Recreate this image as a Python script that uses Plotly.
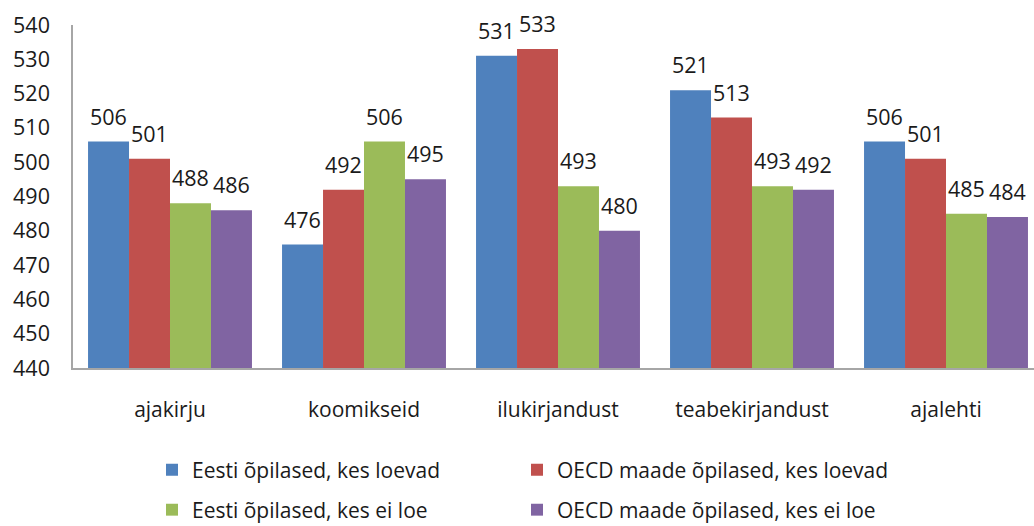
import plotly.graph_objects as go

categories = ["ajakirju", "koomikseid", "ilukirjandust", "teabekirjandust", "ajalehti"]
series_names = [
    "Eesti õpilased, kes loevad",
    "OECD maade õpilased, kes loevad",
    "Eesti õpilased, kes ei loe",
    "OECD maade õpilased, kes ei loe",
]
eesti_loevad = [506, 476, 531, 521, 506]
oecd_loevad = [501, 492, 533, 513, 501]
eesti_ei_loe = [488, 506, 493, 493, 485]
oecd_ei_loe = [486, 495, 480, 492, 484]
y_ticks = list(range(440, 541, 10))

series_values = [eesti_loevad, oecd_loevad, eesti_ei_loe, oecd_ei_loe]
colors = ["#4F81BD", "#C0504D", "#9BBB59", "#8064A2"]

FONT = "Open Sans, Noto Sans, sans-serif"
TEXT = "#1a1a1a"
W, H = 1034, 526
M_L, M_R, M_T, M_B = 73, 0, 25, 158
BARGAP = 0.155
X_RANGE = [-0.5, 4.4536]

# one legend box per entry: 2 columns x 2 rows below the plot
legend_ids = ["legend", "legend2", "legend3", "legend4"]
legend_left_px = [152, 517, 152, 517]
legend_mid_px = [470, 470, 510, 510]

fig = go.Figure()
for name, vals, col, lg in zip(series_names, series_values, colors, legend_ids):
    fig.add_trace(go.Bar(
        x=categories, y=vals, name=name, legend=lg, showlegend=True,
        marker=dict(color=col, line=dict(width=0)),
        hoverinfo="x+y",
    ))

# value labels above each bar, shifted to the bar's slot within its group
unit_px = (W - M_L - M_R) / (X_RANGE[1] - X_RANGE[0])
bar_px = unit_px * (1 - BARGAP) / len(series_values)
annotations = []
for i, vals in enumerate(series_values):
    shift = (i - (len(series_values) - 1) / 2) * bar_px
    for cat, v in zip(categories, vals):
        annotations.append(dict(
            x=cat, y=v, xref="x", yref="y", text=str(v), showarrow=False,
            xanchor="center", yanchor="bottom", xshift=shift, yshift=9,
            font=dict(family=FONT, size=21.5, color=TEXT),
        ))

legend_layout = {}
for lg, lx, ly in zip(legend_ids, legend_left_px, legend_mid_px):
    legend_layout[lg] = dict(
        orientation="h", xanchor="left", yanchor="middle",
        xref="container", yref="container",
        x=lx / W, y=(H - ly) / H,
        font=dict(family=FONT, size=21, color=TEXT),
        bgcolor="rgba(0,0,0,0)", itemclick=False, itemdoubleclick=False,
    )

fig.update_layout(
    width=W, height=H,
    margin=dict(l=M_L, r=M_R, t=M_T, b=M_B, autoexpand=False),
    paper_bgcolor="white", plot_bgcolor="white",
    showlegend=True,
    barmode="group", bargap=BARGAP, bargroupgap=0,
    font=dict(family=FONT, color=TEXT),
    annotations=annotations,
    xaxis=dict(
        range=X_RANGE, showline=True, linecolor="#A6A6A6", linewidth=1.5,
        showgrid=False, ticks="", ticklabelstandoff=22,
        tickfont=dict(family=FONT, size=21, color=TEXT),
        fixedrange=True,
    ),
    yaxis=dict(
        range=[440, 540], tickvals=y_ticks, showline=True, linecolor="#A6A6A6",
        linewidth=1.5, showgrid=False, zeroline=False, ticks="",
        ticklabelstandoff=17,
        tickfont=dict(family=FONT, size=21.5, color=TEXT),
        fixedrange=True,
    ),
    **legend_layout,
)

fig.write_html("out.html")
